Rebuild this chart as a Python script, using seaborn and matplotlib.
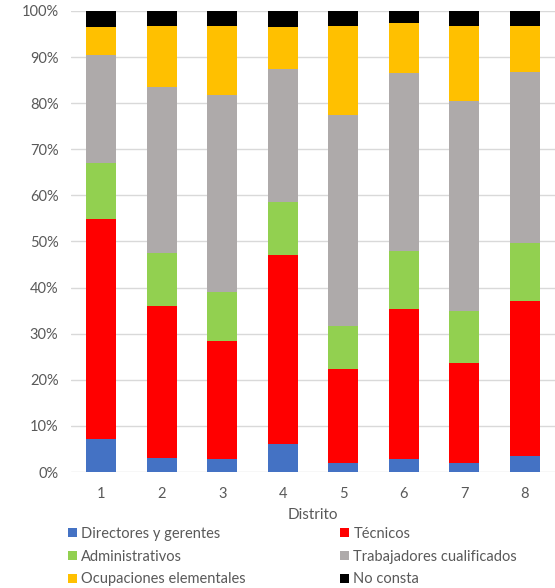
import matplotlib
matplotlib.use("Agg")
import matplotlib.pyplot as plt
from matplotlib.patches import Patch
from matplotlib.ticker import PercentFormatter
import numpy as np
import pandas as pd
import seaborn as sns

# Share of each occupation group per district (%)
distritos = ["1", "2", "3", "4", "5", "6", "7", "8"]
directores = [7.1, 3.1, 2.9, 6.1, 1.9, 2.9, 1.9, 3.5]
tecnicos = [47.8, 32.9, 25.6, 41.0, 20.4, 32.5, 21.8, 33.5]
administrativos = [12.1, 11.4, 10.5, 11.5, 9.4, 12.6, 11.3, 12.7]
cualificados = [23.5, 36.1, 42.7, 28.8, 45.7, 38.6, 45.5, 37.1]
elementales = [6.0, 13.3, 15.1, 9.1, 19.4, 10.8, 16.3, 10.0]
no_consta = [3.5, 3.2, 3.2, 3.5, 3.2, 2.6, 3.2, 3.2]

categorias = ["Directores y gerentes", "Técnicos", "Administrativos",
              "Trabajadores cualificados", "Ocupaciones elementales", "No consta"]
series = [directores, tecnicos, administrativos, cualificados, elementales, no_consta]
colores = ["#4472C4", "#FF0000", "#92D050", "#AEAAAA", "#FFC000", "#000000"]

sns.set_theme(style="white")
plt.rcParams["font.family"] = ["Lato", "DejaVu Sans"]

fig = plt.figure(figsize=(5.55, 5.88), dpi=100)
ax = fig.add_axes([71 / 555, 116 / 588, 484 / 555, 461 / 588])

base = np.zeros(len(distritos))
for nombre, valores, color in zip(categorias, series, colores):
    df = pd.DataFrame({"Distrito": distritos, "valor": valores})
    sns.barplot(data=df, x="Distrito", y="valor", color=color, width=0.5,
                bottom=base, saturation=1, ax=ax, linewidth=0, zorder=3)
    base = base + np.array(valores)

ax.set_ylim(0, 100)
ax.set_xlim(-0.5, len(distritos) - 0.5)
ax.set_yticks(np.arange(0, 101, 10))
ax.yaxis.set_major_formatter(PercentFormatter(decimals=0))
ax.grid(axis="y", color="#D9D9D9", linewidth=1, zorder=0)
ax.set_axisbelow(True)
for s in ax.spines.values():
    s.set_visible(False)
ax.tick_params(axis="both", length=0, labelsize=10.5, labelcolor="#595959")
ax.tick_params(axis="y", pad=9)
ax.tick_params(axis="x", pad=11)
ax.set_ylabel("")
ax.set_xlabel("Distrito", fontsize=11, color="#595959", labelpad=5)

handles = [Patch(facecolor=c, edgecolor="none") for c in colores]
orden = [0, 2, 4, 1, 3, 5]
fig.legend([handles[i] for i in orden], [categorias[i] for i in orden],
           ncol=2, loc="upper left", bbox_to_anchor=(62 / 555, 1 - 521 / 588),
           frameon=False, fontsize=10.5, labelcolor="#595959",
           handlelength=0.6, handleheight=0.6, handletextpad=0.3,
           columnspacing=6.5, labelspacing=0.6, borderaxespad=0)

fig.savefig("out.png", dpi=100)
